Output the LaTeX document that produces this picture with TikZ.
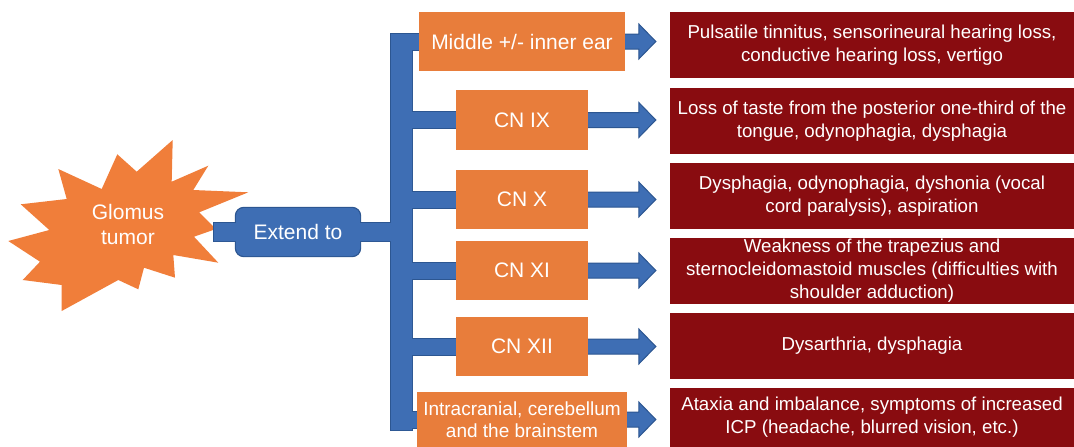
\documentclass[tikz,border=0pt]{standalone}
\usepackage{fontspec}
\setmainfont{Liberation Sans}
\usetikzlibrary{calc}
\definecolor{starC}{RGB}{240,126,58}
\definecolor{boxC}{RGB}{232,125,59}
\definecolor{redC}{RGB}{137,12,16}
\definecolor{bblue}{RGB}{62,110,180}
\definecolor{bdark}{RGB}{44,86,145}
\pgfdeclarelayer{back}
\pgfdeclarelayer{mid}
\pgfsetlayers{back,mid,main}
\begin{document}
\begin{tikzpicture}[x=1pt,y=-1pt,
  obox/.style={fill=boxC, text=white, inner sep=0pt, align=center, font=\fontsize{21}{24}\selectfont},
  rbox/.style={fill=redC, text=white, inner sep=0pt, align=center, minimum width=404pt, minimum height=66pt, font=\fontsize{18.7}{23}\selectfont},
  bdarkpass/.style={draw=bdark, fill=bdark, line width=2pt},
  barrow/.style={fill=bblue, draw=bdark, line width=1pt, line join=miter}]
\useasboundingbox (0,0) rectangle (1074,447);

% starburst shape
\begin{pgfonlayer}{back}
\fill[starC] (172.7,140) -- (171.7,181.7) -- (208.3,165.7) -- (193.3,190) -- (248.3,192.3)
  -- (199.3,212.3) -- (216,229) -- (194,236.7) -- (218.3,262.7) -- (173.3,255)
  -- (175,277.7) -- (144,267.7) -- (138.3,289.3) -- (118.3,280) -- (61.7,311)
  -- (61.7,285) -- (22.7,280) -- (40,261.7) -- (8.3,241) -- (49.3,230)
  -- (20.7,204.3) -- (66.7,199) -- (58.3,169) -- (101.7,189) -- (117.3,154.3)
  -- (136.7,171.7) -- cycle;
\end{pgfonlayer}
\node[text=white, align=center, inner sep=0pt, font=\fontsize{21}{25.5}\selectfont] (star) at (128,224.5) {Glomus\\tumor};
\coordinate (starR) at (214,232);

% extend box
\node[fill=bblue, rounded corners=8pt, minimum width=124pt, minimum height=48pt, text=white,
  font=\fontsize{21}{24}\selectfont, inner sep=0pt] (ext) at (298,232) {Extend to};

\coordinate (vtop) at (401.5,34);
\coordinate (vbot) at (401.5,430);

% orange boxes
\node[obox, minimum width=206pt, minimum height=59pt] (mid) at (522,41.5) {Middle +/- inner ear};
\node[obox, minimum width=132pt, minimum height=60pt] (cn9) at (522,120) {CN IX};
\node[obox, minimum width=132pt, minimum height=59pt] (cn10) at (522,199.5) {CN X};
\node[obox, minimum width=132pt, minimum height=59pt] (cn11) at (522,270.5) {CN XI};
\node[obox, minimum width=132pt, minimum height=59pt] (cn12) at (522,346.5) {CN XII};
\node[obox, minimum width=210pt, minimum height=55pt, font=\fontsize{19}{22}\selectfont] (intra) at (522,419.5) {Intracranial, cerebellum\\and the brainstem};

% red boxes
\node[rbox] (r1) at (872,45) {Pulsatile tinnitus, sensorineural hearing loss,\\conductive hearing loss, vertigo};
\node[rbox] (r2) at (872,121) {Loss of taste from the posterior one-third of the\\tongue, odynophagia, dysphagia};
\node[rbox] (r3) at (872,196) {Dysphagia, odynophagia, dyshonia (vocal\\cord paralysis), aspiration};
\node[rbox] (r4) at (872,271) {Weakness of the trapezius and\\sternocleidomastoid muscles (difficulties with\\shoulder adduction)};
\node[rbox] (r5) at (872,346) {Dysarthria, dysphagia};
\node[rbox, minimum height=59pt] (r6) at (872,417.5) {Ataxia and imbalance, symptoms of increased\\ICP (headache, blurred vision, etc.)};

% bracket: dark outline pass
\begin{pgfonlayer}{back}
\draw[bdarkpass, rounded corners=8pt] (ext.south west) rectangle (ext.north east);
\path[bdarkpass] ($(starR)+(0,-9)$) rectangle ($(ext.center)+(0,9)$)
  ($(ext.center)+(0,-9)$) rectangle ($(vtop |- ext.center)+(0,9)$)
  ($(vtop)+(-10.5,0)$) rectangle ($(vbot)+(10.5,0)$);
\foreach \n in {mid,cn9,cn10,cn11,cn12,intra}
  \path[bdarkpass] ($(vtop |- \n.west)+(0,-8)$) rectangle ($(\n.west)+(4,8)$);
\end{pgfonlayer}

% bracket: blue fill pass and arrows
\begin{pgfonlayer}{mid}
\fill[bblue] ($(starR)+(0,-9)$) rectangle ($(ext.west)+(6,9)$)
  ($(ext.east)+(-6,-9)$) rectangle ($(vtop |- ext.center)+(0,9)$)
  ($(vtop)+(-10.5,0)$) rectangle ($(vbot)+(10.5,0)$);
\foreach \n in {mid,cn9,cn10,cn11,cn12,intra}
  \fill[bblue] ($(vtop |- \n.west)+(0,-8)$) rectangle ($(\n.west)+(4,8)$);
\foreach \a/\b in {mid/r1,cn9/r2,cn10/r3,cn11/r4,cn12/r5,intra/r6}
  \draw[barrow] let \p1=(\a.east), \p2=(\b.west) in
    (\x1-2pt,\y1+7.5pt) -- (\x2-31pt,\y1+7.5pt) -- (\x2-31pt,\y1+17.5pt) -- (\x2-14pt,\y1)
    -- (\x2-31pt,\y1-17.5pt) -- (\x2-31pt,\y1-7.5pt) -- (\x1-2pt,\y1-7.5pt) -- cycle;
\end{pgfonlayer}
\end{tikzpicture}
\end{document}
